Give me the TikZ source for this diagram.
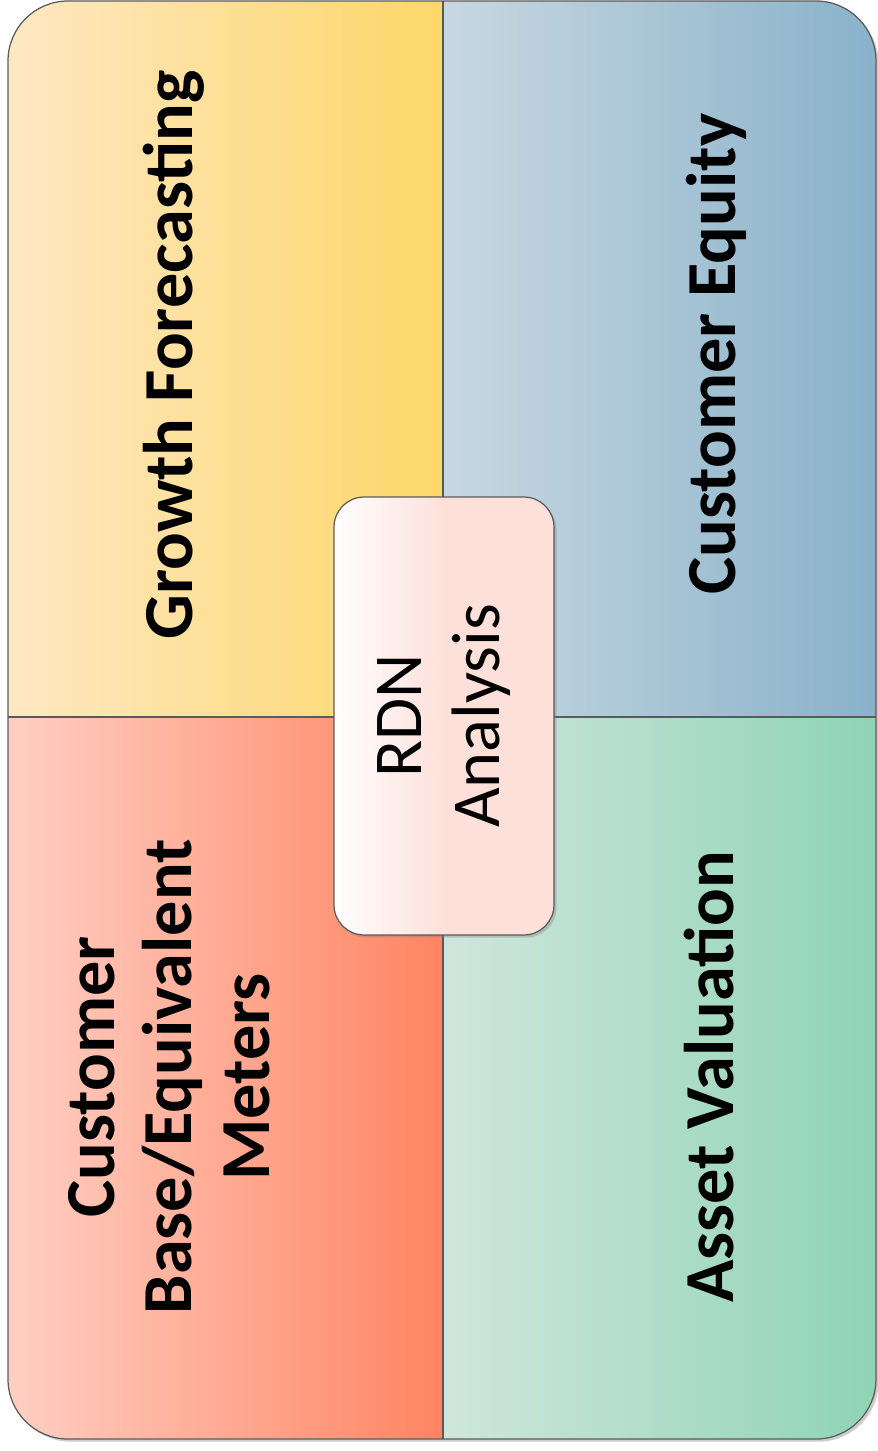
\documentclass[tikz,border=0pt]{standalone}
\usepackage{fontspec}
\setmainfont{Carlito}
\usetikzlibrary{shadows}

\definecolor{growthL}{HTML}{FEE8C4}
\definecolor{growthR}{HTML}{FDD768}
\definecolor{equityL}{HTML}{C8D8E1}
\definecolor{equityR}{HTML}{89B2CA}
\definecolor{baseL}{HTML}{FFCFC4}
\definecolor{baseR}{HTML}{FF8461}
\definecolor{assetL}{HTML}{D0E6DD}
\definecolor{assetR}{HTML}{8FD4B4}
\definecolor{rdnR}{HTML}{FEE0DA}
\definecolor{edge}{HTML}{5A5A5A}

\begin{document}
\begin{tikzpicture}[x=0.02cm, y=-0.02cm,
    label/.style={rotate=90, inner sep=0pt, align=center,
        font=\bfseries\fontsize{40}{44}\selectfont},
    hub/.style={rotate=90, draw=edge, line width=0.7pt, rounded corners=0.6cm,
        minimum width=8.76cm, minimum height=4.4cm, align=center,
        left color=white, right color=rdnR, middle color=rdnR,
        drop shadow={shadow xshift=1.5pt, shadow yshift=-1.5pt, opacity=0.35},
        font=\fontsize{39}{44}\selectfont}
]

\useasboundingbox (0,0) rectangle (878,1451);

% Outer frame with shadow
\path[fill=white, rounded corners=1.2cm,
    drop shadow={shadow xshift=1.5pt, shadow yshift=-1.5pt, opacity=0.4}]
    (8,1) rectangle (876,1439);

% Quadrant fills
\begin{scope}
\clip[rounded corners=1.2cm] (8,1) rectangle (876,1439);
\foreach \xa/\ya/\xb/\yb/\cl in {8/1/443/717/growth, 443/1/876/717/equity,
                                  8/717/443/1439/base, 443/717/876/1439/asset}{
    \shade[left color=\cl L, right color=\cl R] (\xa,\ya) rectangle (\xb,\yb);
}
\end{scope}

% Frame and dividers
\draw[edge, line width=0.7pt, rounded corners=1.2cm] (8,1) rectangle (876,1439);
\draw[edge, line width=0.7pt] (443,1) -- (443,1439);
\draw[edge, line width=0.7pt] (8,717) -- (876,717);

% Quadrant labels
\node[label, anchor=base] (growth) at (192,355) {Growth Forecasting};
\node[label, anchor=base] (equity) at (735,354) {Customer Equity};
\node[label] (base) at (169,1077) {Customer\\Base/Equivalent\\Meters};
\node[label, anchor=base] (asset) at (733,1077) {Asset Valuation};

% Centre box
\node[hub] (rdn) at (444,716) {RDN\\Analysis};

\end{tikzpicture}
\end{document}
